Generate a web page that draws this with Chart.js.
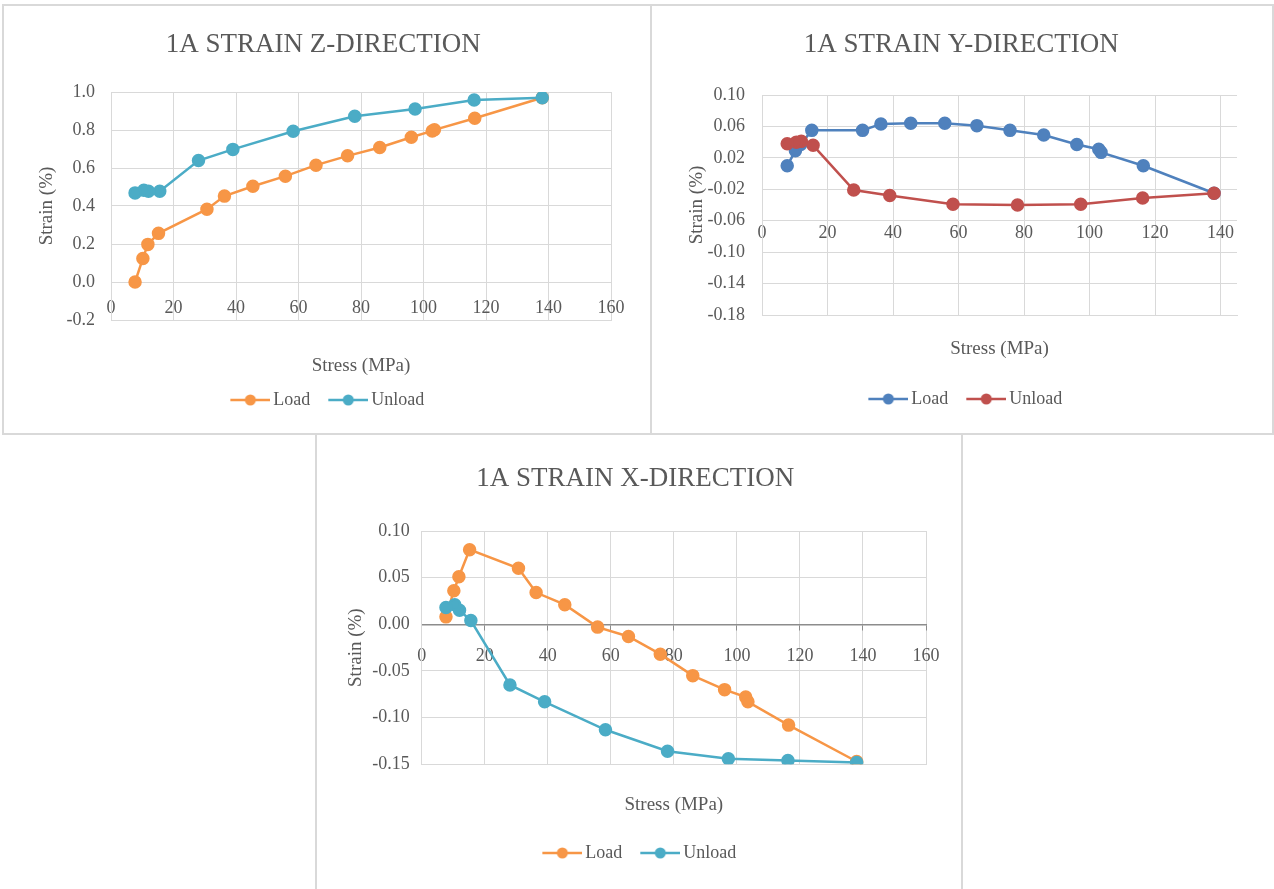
<!DOCTYPE html>
<html>
<head>
  <meta charset="utf-8">
  <title>1A Strain</title>
  <script src="https://cdn.jsdelivr.net/npm/chart.js@4.4.0/dist/chart.umd.min.js"></script>
  <style>
    body {
      margin: 0;
      background: #fff;
      width: 1274px;
      height: 889px;
      position: relative;
      overflow: hidden;
    }
    .panel {
      position: absolute;
      border: 2px solid #d9d9d9;
      box-sizing: border-box;
      background: #fff;
    }
    #panelZ { left: 2px; top: 4px; width: 650px; height: 431px; }
    #panelY { left: 650px; top: 4px; width: 624px; height: 431px; }
    #panelX { left: 315px; top: 433px; width: 648px; height: 458px; }
    canvas { display: block; }
  </style>
</head>
<body>
  <div class="panel" id="panelZ"><canvas id="chartZ" width="646" height="427"></canvas></div>
  <div class="panel" id="panelY"><canvas id="chartY" width="620" height="427"></canvas></div>
  <div class="panel" id="panelX"><canvas id="chartX" width="644" height="454"></canvas></div>

  <script>
    // stress steps (MPa), same for the three gauges
    const loadStress = [7.7, 10.2, 11.8, 15.2, 30.7, 36.3, 45.4, 55.8, 65.6, 75.7, 86.0, 96.1, 102.8, 103.5, 116.4, 138.0];
    const unloadStress = [138.0, 116.2, 97.3, 78.0, 58.3, 39.0, 28.0, 15.6, 12.0, 10.5, 7.7];

    // strain (%)
    const zLoad = [0.000, 0.124, 0.198, 0.256, 0.383, 0.452, 0.504, 0.557, 0.615, 0.664, 0.708, 0.762, 0.795, 0.801, 0.862, 0.970];
    const zUnload = [0.970, 0.958, 0.911, 0.872, 0.793, 0.698, 0.639, 0.478, 0.478, 0.483, 0.469];
    const yLoad = [0.010, 0.029, 0.037, 0.055, 0.055, 0.063, 0.064, 0.064, 0.061, 0.055, 0.049, 0.037, 0.031, 0.027, 0.010, -0.025];
    const yUnload = [-0.025, -0.031, -0.039, -0.040, -0.039, -0.028, -0.021, 0.036, 0.041, 0.040, 0.038];
    const xLoad = [0.008, 0.036, 0.051, 0.080, 0.060, 0.034, 0.021, -0.003, -0.013, -0.032, -0.055, -0.070, -0.078, -0.083, -0.108, -0.147];
    const xUnload = [-0.148, -0.146, -0.144, -0.136, -0.113, -0.083, -0.065, 0.004, 0.015, 0.021, 0.018];

    // tick labels
    const stressTicks = [0, 20, 40, 60, 80, 100, 120, 140, 160];
    const stressTicksY = [0, 20, 40, 60, 80, 100, 120, 140];
    const zTicks = [-0.2, 0, 0.2, 0.4, 0.6, 0.8, 1.0];
    const yTicks = [-0.18, -0.14, -0.10, -0.06, -0.02, 0.02, 0.06, 0.10];
    const xTicks = [-0.15, -0.10, -0.05, 0, 0.05, 0.10];
    const seriesNames = ['Load', 'Unload'];

    const SERIF = "'Liberation Serif', 'Times New Roman', serif";
    const TEXT = '#595959';
    const GRID = '#d9d9d9';

    // line + dot marker for the legend
    function legendMarker(color) {
      const c = document.createElement('canvas');
      c.width = 54;
      c.height = 14;
      const g = c.getContext('2d');
      g.strokeStyle = color;
      g.lineWidth = 2.5;
      g.beginPath();
      g.moveTo(14, 7);
      g.lineTo(54, 7);
      g.stroke();
      g.fillStyle = color;
      g.beginPath();
      g.arc(34, 7, 5.5, 0, Math.PI * 2);
      g.fill();
      return c;
    }

    function series(xs, ys) {
      return xs.map((s, i) => ({ x: s, y: ys[i] }));
    }

    function buildChart(id, o) {
      const markers = o.colors.map(legendMarker);
      return new Chart(document.getElementById(id), {
        type: 'scatter',
        data: {
          datasets: [{
            label: seriesNames[0],
            data: series(loadStress, o.load),
            borderColor: o.colors[0],
            backgroundColor: o.colors[0],
            showLine: true,
            borderWidth: 2.5,
            pointRadius: 5.5,
            order: 1
          }, {
            label: seriesNames[1],
            data: series(unloadStress, o.unload),
            borderColor: o.colors[1],
            backgroundColor: o.colors[1],
            showLine: true,
            borderWidth: 2.5,
            pointRadius: 5.5,
            order: 0
          }]
        },
        options: {
          responsive: false,
          animation: false,
          layout: { padding: o.pad },
          plugins: {
            title: {
              display: true,
              text: o.title,
              color: TEXT,
              font: { family: SERIF, size: 27, weight: 'normal' },
              padding: { top: o.titlePad[0], bottom: o.titlePad[1] }
            },
            legend: {
              position: 'bottom',
              labels: {
                usePointStyle: true,
                pointStyleWidth: 42,
                padding: 10,
                color: TEXT,
                font: { family: SERIF, size: 18 },
                generateLabels: chart => chart.data.datasets.map((ds, i) => ({
                  text: ds.label,
                  pointStyle: markers[i],
                  fillStyle: ds.borderColor,
                  strokeStyle: ds.borderColor,
                  lineWidth: 0,
                  fontColor: TEXT,
                  hidden: false,
                  datasetIndex: i
                }))
              }
            },
            tooltip: { enabled: false }
          },
          scales: {
            x: {
              type: 'linear',
              position: 'bottom',
              min: 0,
              max: o.xMax,
              afterBuildTicks: s => { s.ticks = o.xTicks.map(v => ({ value: v })); },
              afterFit: s => { s.height = o.xHeight; },
              ticks: { display: false },
              grid: { color: GRID, drawTicks: false },
              border: { color: GRID },
              title: {
                display: true,
                text: 'Stress (MPa)',
                color: TEXT,
                font: { family: SERIF, size: 19 },
                padding: { top: 0, bottom: o.xTitlePad }
              }
            },
            // tick labels sitting on the crossing line
            x2: {
              type: 'linear',
              position: { y: o.xCross },
              min: 0,
              max: o.xMax,
              afterBuildTicks: s => { s.ticks = o.xTicks.map(v => ({ value: v })); },
              grid: o.axisLine
                ? { display: true, drawOnChartArea: false, drawTicks: true, tickLength: 5, color: '#8c8c8c' }
                : { display: false, drawTicks: false },
              border: { display: o.axisLine, color: '#8c8c8c', width: 1.5 },
              ticks: {
                color: TEXT,
                font: { family: SERIF, size: 18 },
                padding: o.x2Pad,
                autoSkip: false,
                maxRotation: 0
              }
            },
            y: {
              type: 'linear',
              position: 'left',
              min: o.yTicks[0],
              max: o.yTicks[o.yTicks.length - 1],
              afterBuildTicks: s => { s.ticks = o.yTicks.map(v => ({ value: v })); },
              afterFit: s => { s.width = o.yWidth; },
              ticks: {
                color: TEXT,
                font: { family: SERIF, size: 18 },
                padding: o.yPad,
                callback: v => v.toFixed(o.digits)
              },
              grid: { color: GRID, drawTicks: false },
              border: { color: GRID },
              title: {
                display: true,
                text: 'Strain (%)',
                color: TEXT,
                font: { family: SERIF, size: 19 },
                padding: 0
              }
            }
          }
        }
      });
    }

    buildChart('chartZ', {
      title: '1A STRAIN Z-DIRECTION',
      load: zLoad, unload: zUnload,
      colors: ['#F79646', '#4BACC6'],
      pad: { left: 31.6, right: 39, top: 0, bottom: 14 },
      titlePad: [22.8, 30.8],
      xMax: 160, xTicks: stressTicks, xCross: 0,
      xHeight: 61, xTitlePad: 3.6, x2Pad: 15.5, axisLine: false,
      yTicks: zTicks, digits: 1, yWidth: 75.4, yPad: 16
    });

    buildChart('chartY', {
      title: '1A STRAIN Y-DIRECTION',
      load: yLoad, unload: yUnload,
      colors: ['#4F81BD', '#C0504D'],
      pad: { left: 33.6, right: 35, top: 0, bottom: 15 },
      titlePad: [22.8, 33.8],
      xMax: 145, xTicks: stressTicksY, xCross: -0.06,
      xHeight: 65, xTitlePad: 19.6, x2Pad: 2, axisLine: false,
      yTicks: yTicks, digits: 2, yWidth: 76.4, yPad: 17
    });

    buildChart('chartX', {
      title: '1A STRAIN X-DIRECTION',
      load: xLoad, unload: xUnload,
      colors: ['#F79646', '#4BACC6'],
      pad: { left: 27.6, right: 35, top: 0, bottom: 17 },
      titlePad: [27.8, 35.8],
      xMax: 160, xTicks: stressTicks, xCross: 0,
      xHeight: 69.7, xTitlePad: 17.6, x2Pad: 16.6, axisLine: true,
      yTicks: xTicks, digits: 2, yWidth: 77.1, yPad: 12
    });
  </script>
</body>
</html>
